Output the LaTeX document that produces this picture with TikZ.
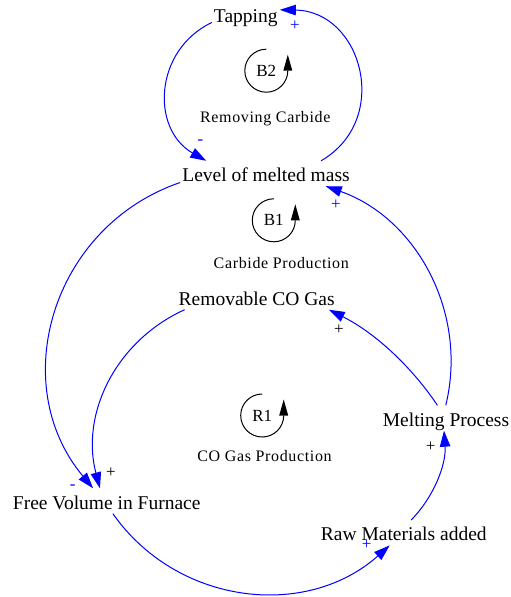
\documentclass[tikz,border=0pt]{standalone}
\usepackage{fontspec}
\setmainfont{Liberation Serif}
\usetikzlibrary{arrows.meta}

\newcommand{\varfont}{\fontsize{19.5}{22}\selectfont}
\newcommand{\loopnamefont}{\fontsize{16}{19}\selectfont\addfontfeature{LetterSpace=4}}
\newcommand{\looptagfont}{\fontsize{17}{19}\selectfont}
\newcommand{\signfont}{\fontsize{17}{19}\selectfont}

\tikzset{
  var/.style={font=\varfont, inner sep=2pt, text height=18.5pt, text depth=2.5pt, anchor=base},
  link/.style={draw=blue, line width=1pt, -{Triangle[length=16pt,width=10.5pt]}},
  sgn/.style={font=\signfont, inner sep=0pt},
  loopname/.style={font=\loopnamefont, inner sep=0pt, anchor=base},
  looptag/.style={font=\looptagfont, inner sep=0pt},
  looparc/.style={draw=black, line width=1pt},
}

\begin{document}
\begin{tikzpicture}[x=1pt, y=1pt]
  \useasboundingbox (0,0) rectangle (511,-597);

  % variables
  \node[var] (tap) at (245.8,-22)  {Tapping};
  \node[var] (lvl) at (266,-181.5) {Level of melted mass};
  \node[var] (rco) at (256.7,-305) {Removable CO Gas};
  \node[var] (mel) at (446,-426)   {Melting Process};
  \node[var] (raw) at (403.8,-540.7) {Raw Materials added};
  \node[var] (fvf) at (106.7,-509) {Free Volume in Furnace};

  % causal links
  \draw[link] (lvl.13)  to[out=30.1,  in=-0.9,   distance=82.1pt]  (tap.7);
  \draw[link] (tap.194) to[out=205.6, in=150.3,  distance=64.1pt]  (lvl.168);
  \draw[link] (lvl.186) to[out=198.9, in=129.9,  distance=135.8pt] (fvf.137);
  \draw[link] (rco.190) to[out=204.4, in=104.8,  distance=76.3pt]  (fvf.118);
  \draw[link] (fvf.296) to[out=-54.9, in=221.7,  distance=111.8pt] (raw.222);
  \draw[link] (raw.60)  to[out=45.5,  in=-85.95, distance=33.2pt]  (mel.261);
  \draw[link] (mel.124) to[out=123.9, in=-26.45, distance=49.3pt]  (rco.350);
  \draw[link] (mel.91)  to[out=76.3,  in=-19.4,  distance=95.7pt]  (lvl.348);

  % polarities
  \node[sgn, text=blue]  (p1) at (295,-26)    {+};
  \node[sgn, text=blue]  (p2) at (200.5,-141.7) {-};
  \node[sgn, text=blue]  (p3) at (336,-205)   {+};
  \node[sgn, text=black] (p4) at (339,-330)   {+};
  \node[sgn, text=blue]  (p5) at (72.7,-487.5)  {-};
  \node[sgn, text=black] (p6) at (111,-472.3) {+};
  \node[sgn, text=black] (p7) at (430.7,-446.7) {+};
  \node[sgn, text=blue]  (p8) at (366.7,-544.3) {+};

  % loop markers
  \foreach \nm/\x/\y/\tg in {b2/266.3/-70.7/B2, b1/273.8/-220.3/B1, r1/262.2/-415.5/R1}{
    \node[looptag] (\nm) at (\x,\y) {\tg};
    \draw[looparc] ([shift={(90:21.5)}]\nm.center) arc[start angle=90, end angle=360, radius=21.5];
    \fill ([shift={(21.5,16)}]\nm.center) -- ([shift={(17,0)}]\nm.center)
          -- ([shift={(26,0)}]\nm.center) -- cycle;
  }

  % loop names
  \node[loopname] (lb2) at (265.3,-122.7) {Removing Carbide};
  \node[loopname] (lb1) at (281.3,-268.3) {Carbide Production};
  \node[loopname] (lr1) at (264.5,-461.7) {CO Gas Production};
\end{tikzpicture}
\end{document}
